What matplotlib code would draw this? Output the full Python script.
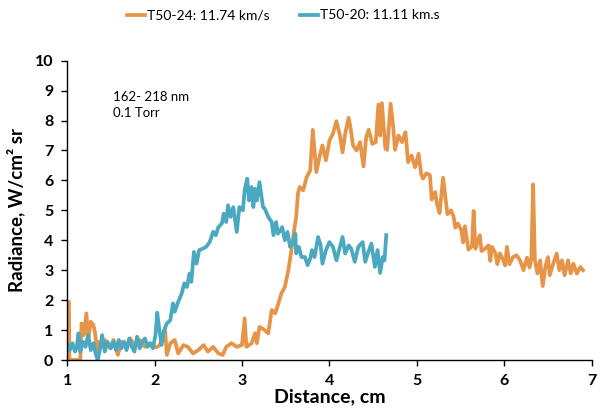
import matplotlib
matplotlib.use("Agg")
import matplotlib.pyplot as plt

plt.rcParams['font.family'] = ['Lato', 'DejaVu Sans']

# T50-24 (orange)
dist_24 = [1.00, 1.02, 1.025, 1.03, 1.15, 1.165, 1.19, 1.22, 1.24, 1.27, 1.30, 1.32, 1.34, 1.35,
           1.39, 1.43, 1.49, 1.53, 1.58, 1.62, 1.68, 1.72, 1.77, 1.83, 1.89, 1.95, 2.02,
           2.06, 2.12, 2.14, 2.18, 2.23, 2.27, 2.33, 2.38, 2.44, 2.50, 2.56, 2.61, 2.67,
           2.73, 2.78, 2.82, 2.88, 2.94, 3.00, 3.03, 3.05, 3.11, 3.15, 3.17, 3.20, 3.26,
           3.30, 3.34, 3.38, 3.41, 3.45, 3.49, 3.53, 3.56, 3.59, 3.62, 3.64, 3.66, 3.70,
           3.74, 3.78, 3.81, 3.85, 3.89, 3.92, 3.96, 4.00, 4.04, 4.08, 4.12, 4.15, 4.18,
           4.22, 4.24, 4.27, 4.31, 4.35, 4.39, 4.42, 4.45, 4.49, 4.53, 4.56, 4.58, 4.60,
           4.64, 4.66, 4.70, 4.73, 4.75, 4.79, 4.83, 4.87, 4.90, 4.94, 4.98, 5.02, 5.05,
           5.07, 5.11, 5.15, 5.17, 5.21, 5.23, 5.26, 5.30, 5.32, 5.35, 5.39, 5.42, 5.44,
           5.47, 5.51, 5.53, 5.55, 5.59, 5.63, 5.65, 5.67, 5.70, 5.72, 5.74, 5.78, 5.82,
           5.84, 5.86, 5.90, 5.92, 5.95, 5.99, 6.01, 6.03, 6.06, 6.10, 6.14, 6.18, 6.22,
           6.26, 6.29, 6.31, 6.33, 6.35, 6.38, 6.41, 6.44, 6.47, 6.50, 6.52, 6.56, 6.60,
           6.63, 6.66, 6.69, 6.73, 6.76, 6.79, 6.83, 6.87, 6.90]
rad_24 = [1.94, 1.94, 0.07, 0.00, 0.00, 1.22, 0.83, 1.56, 0.67, 1.28, 1.17, 0.89, 0.33, 0.61,
          0.44, 0.67, 0.40, 0.67, 0.17, 0.61, 0.44, 0.72, 0.50, 0.67, 0.44, 0.56, 0.42,
          0.50, 1.06, 0.17, 0.56, 0.67, 0.22, 0.50, 0.44, 0.22, 0.33, 0.50, 0.28, 0.44,
          0.22, 0.17, 0.44, 0.56, 0.44, 0.50, 1.39, 0.44, 0.56, 0.89, 0.56, 1.11, 1.00,
          0.89, 1.67, 1.56, 1.83, 2.22, 2.44, 3.00, 3.56, 4.22, 4.78, 5.56, 5.78, 5.67,
          6.11, 6.33, 7.69, 6.28, 6.83, 7.17, 6.67, 7.33, 7.56, 7.98, 7.50, 6.94, 7.56,
          8.09, 7.78, 7.17, 7.00, 7.28, 6.47, 7.44, 7.69, 7.22, 7.28, 8.53, 7.50, 8.58,
          7.06, 7.02, 8.56, 7.78, 7.02, 7.50, 7.28, 7.61, 6.61, 6.83, 6.44, 6.89, 6.20,
          6.06, 6.24, 6.17, 5.36, 5.61, 5.22, 4.91, 6.09, 5.61, 4.87, 5.00, 4.80, 4.42,
          4.56, 4.33, 3.93, 4.47, 3.69, 3.80, 4.98, 3.72, 3.98, 4.17, 3.64, 3.72, 3.83,
          3.31, 3.78, 3.56, 3.20, 3.56, 3.33, 3.16, 3.78, 3.20, 3.44, 3.50, 3.33, 3.00,
          3.42, 3.09, 3.39, 5.87, 3.33, 2.89, 3.33, 2.47, 3.11, 3.44, 2.83, 3.22, 3.56,
          3.00, 3.33, 2.83, 3.33, 2.89, 3.22, 2.89, 3.11, 3.00]

# T50-20 (blue)
dist_20 = [1.01, 1.03, 1.06, 1.09, 1.11, 1.13, 1.15, 1.18, 1.21, 1.24, 1.27, 1.30, 1.33, 1.35,
           1.38, 1.40, 1.43, 1.46, 1.50, 1.53, 1.56, 1.59, 1.62, 1.65, 1.68, 1.71, 1.74,
           1.77, 1.80, 1.83, 1.86, 1.89, 1.92, 1.95, 1.98, 2.01, 2.03, 2.05, 2.08, 2.11,
           2.14, 2.18, 2.21, 2.23, 2.27, 2.31, 2.34, 2.37, 2.40, 2.42, 2.45, 2.48, 2.51,
           2.55, 2.59, 2.63, 2.67, 2.70, 2.73, 2.77, 2.79, 2.82, 2.84, 2.87, 2.90, 2.94,
           2.97, 3.01, 3.03, 3.06, 3.08, 3.11, 3.13, 3.15, 3.17, 3.20, 3.24, 3.26, 3.30,
           3.34, 3.36, 3.39, 3.41, 3.44, 3.46, 3.49, 3.52, 3.55, 3.58, 3.61, 3.62, 3.65,
           3.68, 3.72, 3.75, 3.78, 3.80, 3.83, 3.87, 3.90, 3.92, 3.96, 4.00, 4.04, 4.08,
           4.12, 4.15, 4.18, 4.22, 4.25, 4.29, 4.33, 4.38, 4.41, 4.44, 4.48, 4.52, 4.55,
           4.58, 4.61, 4.63, 4.65]
rad_20 = [0.50, 0.33, 0.56, 0.28, 0.44, 0.89, 0.28, 0.61, 0.44, 0.83, 0.33, 0.56, 0.17, 0.00,
          0.44, 0.83, 0.28, 0.61, 0.39, 0.61, 0.33, 0.67, 0.39, 0.61, 0.33, 0.72, 0.44,
          0.28, 0.78, 0.39, 0.61, 0.72, 0.44, 0.56, 0.39, 0.83, 1.58, 1.11, 0.50, 1.00,
          1.22, 1.33, 1.89, 1.61, 1.94, 2.22, 2.56, 2.44, 2.89, 2.61, 3.61, 3.22, 3.67,
          3.72, 3.78, 3.94, 4.28, 4.17, 4.44, 4.56, 4.89, 4.61, 5.17, 4.78, 5.11, 4.28,
          5.11, 5.00, 5.67, 6.06, 5.33, 5.78, 5.11, 5.72, 5.33, 5.94, 5.11, 5.06, 4.78,
          4.61, 4.17, 4.61, 4.22, 4.33, 4.44, 4.00, 4.28, 3.78, 3.89, 4.22, 3.56, 3.78,
          3.44, 3.44, 3.17, 3.39, 3.67, 3.44, 4.11, 3.83, 3.22, 3.67, 3.94, 3.78, 3.33,
          3.78, 4.11, 3.56, 3.83, 3.72, 3.28, 3.78, 3.94, 3.28, 3.56, 3.89, 3.11, 3.67,
          2.91, 3.44, 3.33, 4.17]

labels = ['T50-24: 11.74 km/s', 'T50-20: 11.11 km.s']
colors = ['#E69447', '#4AA8C1']

fig = plt.figure(figsize=(6.05, 4.16), dpi=100)
ax = fig.add_axes([0.111, 0.1346, 0.867, 0.7195])

ax.plot(dist_24, rad_24, color=colors[0], lw=2.7, label=labels[0])
ax.plot(dist_20, rad_20, color=colors[1], lw=2.7, label=labels[1])

ax.set_xlim(1, 7)
ax.set_ylim(0, 10)
ax.set_xticks(range(1, 8))
ax.set_yticks(range(0, 11))
for s in ['top', 'right']:
    ax.spines[s].set_visible(False)
for s in ['left', 'bottom']:
    ax.spines[s].set_linewidth(1.0)
ax.tick_params(direction='out', length=4, width=1.0, labelsize=11.5, pad=6)
for t in ax.get_xticklabels() + ax.get_yticklabels():
    t.set_fontweight('bold')

ax.set_xlabel('Distance, cm', fontsize=14, fontweight='bold', labelpad=0)
ax.set_ylabel('Radiance, W/cm² sr', fontsize=13.5, fontweight='bold', labelpad=7)

ax.text(1.52, 8.52, '162- 218 nm\n0.1 Torr', fontsize=9.5, ha='left', va='center',
        linespacing=1.35)

fig.legend(loc='center', bbox_to_anchor=(0.468, 0.963), ncol=2, frameon=False,
           fontsize=10, handlelength=1.3, handletextpad=0.15, columnspacing=2.2)

fig.savefig('out.png', dpi=100)
